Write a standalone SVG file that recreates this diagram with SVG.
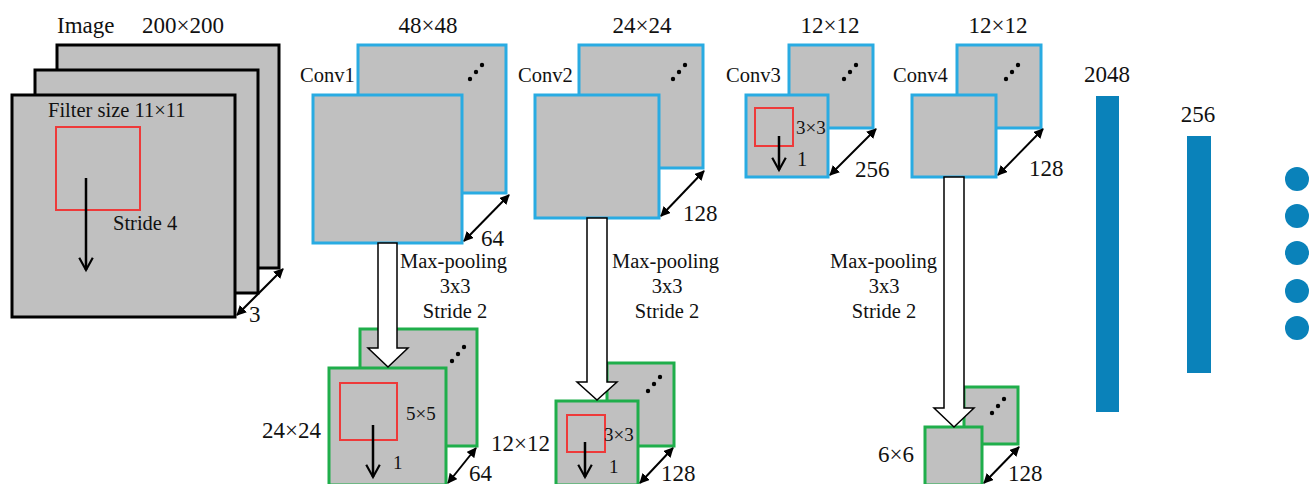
<svg xmlns="http://www.w3.org/2000/svg" width="1314" height="484" viewBox="0 0 1314 484">
<defs>
<style>
text{font-family:'Liberation Serif','DejaVu Serif',serif;fill:#111}
.t24{font-size:23px}
.t21{font-size:20.5px}
.t18{font-size:19px}
.img{fill:#c0c0c0;stroke:#000;stroke-width:3}
.conv{fill:#c0c0c0;stroke:#29abe2;stroke-width:3}
.pool{fill:#c0c0c0;stroke:#1fae4b;stroke-width:3}
.filt{fill:none;stroke:#ee3a3a;stroke-width:2}
.dn{stroke:#000;stroke-width:2.5;fill:none;marker-end:url(#open)}
.dim{stroke:#000;stroke-width:2;fill:none;marker-start:url(#fill);marker-end:url(#fill)}
.big{fill:#fff;stroke:#000;stroke-width:1.5}
.bar{fill:#0a82ba}
</style>
<marker id="open" viewBox="0 0 12 12" refX="10" refY="6" markerWidth="6.5" markerHeight="6.5" orient="auto" markerUnits="strokeWidth">
<path d="M1,1 L10,6 L1,11" fill="none" stroke="#000" stroke-width="1.6"/>
</marker>
<marker id="fill" viewBox="0 0 10 10" refX="9" refY="5" markerWidth="5" markerHeight="5" orient="auto-start-reverse" markerUnits="strokeWidth">
<path d="M0,0 L10,5 L0,10 Z" fill="#000"/>
</marker>
<g id="dots3">
<circle cx="0" cy="0" r="2.2" fill="#000"/>
<circle cx="6" cy="-7" r="2.2" fill="#000"/>
<circle cx="12" cy="-14" r="2.2" fill="#000"/>
</g>
</defs>

<g font-family="Liberation Serif, DejaVu Serif, serif">
<g id="image">
<rect class="img" x="57" y="45" width="222" height="223"/>
<rect class="img" x="35" y="70" width="223" height="223"/>
<rect class="img" x="12" y="95" width="223" height="222"/>
<text class="t24" x="57" y="33">Image</text>
<text class="t24" x="142" y="33">200×200</text>
<text class="t21" x="48" y="117">Filter size 11×11</text>
<rect class="filt" x="56" y="127" width="84" height="83"/>
<text class="t21" x="113" y="230">Stride 4</text>
<text class="t24" x="249" y="322">3</text>
</g>

<g id="conv1">
<rect class="conv" x="358" y="45" width="148" height="148"/>
<rect class="conv" x="313" y="95" width="149" height="148"/>
<use href="#dots3" x="470" y="79"/>
<text class="t24" x="428" y="33" text-anchor="middle">48×48</text>
<text class="t21" x="300" y="82">Conv1</text>
<text class="t24" x="481" y="246">64</text>
</g>

<g id="conv2">
<rect class="conv" x="579" y="45" width="124" height="123"/>
<rect class="conv" x="535" y="95" width="124" height="123"/>
<use href="#dots3" x="673" y="79"/>
<text class="t24" x="642" y="33" text-anchor="middle">24×24</text>
<text class="t21" x="518" y="82">Conv2</text>
<text class="t24" x="683" y="221">128</text>
</g>

<g id="conv3">
<rect class="conv" x="789" y="45" width="84" height="83"/>
<rect class="conv" x="746" y="95" width="82" height="82"/>
<use href="#dots3" x="844" y="79"/>
<rect class="filt" x="755" y="108" width="38" height="38"/>
<text class="t24" x="830" y="33" text-anchor="middle">12×12</text>
<text class="t21" x="726" y="82">Conv3</text>
<text class="t18" x="796" y="134">3×3</text>
<text class="t21" x="797" y="166">1</text>
<text class="t24" x="855" y="177">256</text>
</g>

<g id="conv4">
<rect class="conv" x="957" y="45" width="84" height="83"/>
<rect class="conv" x="912" y="95" width="84" height="82"/>
<use href="#dots3" x="1006" y="79"/>
<text class="t24" x="998" y="33" text-anchor="middle">12×12</text>
<text class="t21" x="893" y="82">Conv4</text>
<text class="t24" x="1029" y="176">128</text>
</g>

<g id="pool1">
<rect class="pool" x="360" y="329" width="117" height="117"/>
<rect class="pool" x="329" y="368" width="117" height="117"/>
<use href="#dots3" x="452" y="361"/>
<rect class="filt" x="340" y="383" width="57" height="57"/>
<text class="t18" x="406" y="420">5×5</text>
<text class="t24" x="262" y="438">24×24</text>
<text class="t18" x="393" y="469">1</text>
<text class="t24" x="469" y="481">64</text>
</g>

<g id="pool2">
<rect class="pool" x="607" y="363" width="67" height="83"/>
<rect class="pool" x="556" y="401" width="82" height="84"/>
<use href="#dots3" x="648" y="391"/>
<rect class="filt" x="567" y="415" width="38" height="37"/>
<text class="t18" x="604" y="441">3×3</text>
<text class="t24" x="491" y="451">12×12</text>
<text class="t18" x="609" y="473">1</text>
<text class="t24" x="661" y="481">128</text>
</g>

<g id="pool4">
<rect class="pool" x="964" y="387" width="54" height="57"/>
<rect class="pool" x="925" y="427" width="57" height="58"/>
<use href="#dots3" x="992" y="413"/>
<text class="t24" x="878" y="462">6×6</text>
<text class="t24" x="1008" y="481">128</text>
</g>

<g id="pool-labels">
<text class="t21" x="400" y="268">Max-pooling</text>
<text class="t21" x="455" y="293" text-anchor="middle">3x3</text>
<text class="t21" x="455" y="318" text-anchor="middle">Stride 2</text>
<text class="t21" x="612" y="268">Max-pooling</text>
<text class="t21" x="667" y="293" text-anchor="middle">3x3</text>
<text class="t21" x="667" y="318" text-anchor="middle">Stride 2</text>
<text class="t21" x="830" y="268">Max-pooling</text>
<text class="t21" x="884" y="293" text-anchor="middle">3x3</text>
<text class="t21" x="884" y="318" text-anchor="middle">Stride 2</text>
</g>

<g id="fc1">
<rect class="bar" x="1096" y="96" width="23" height="316"/>
<text class="t24" x="1107" y="82" text-anchor="middle">2048</text>
</g>
<g id="fc2">
<rect class="bar" x="1187" y="136" width="24" height="237"/>
<text class="t24" x="1198" y="122" text-anchor="middle">256</text>
</g>
<g id="output">
<circle class="bar" cx="1297" cy="179" r="12"/>
<circle class="bar" cx="1297" cy="216" r="12"/>
<circle class="bar" cx="1297" cy="253" r="12"/>
<circle class="bar" cx="1297" cy="291" r="12"/>
<circle class="bar" cx="1297" cy="328" r="12"/>
</g>
</g>

<g id="connectors">
<line class="dn" x1="86" y1="178" x2="86" y2="270"/>
<line class="dim" x1="237" y1="315" x2="283" y2="269"/>
<line class="dim" x1="464" y1="241" x2="509" y2="195"/>
<line class="dim" x1="661" y1="216" x2="704" y2="171"/>
<line class="dn" x1="779" y1="136" x2="779" y2="170"/>
<line class="dim" x1="830" y1="175" x2="876" y2="129"/>
<line class="dim" x1="998" y1="175" x2="1043" y2="129"/>
<line class="dn" x1="373" y1="425" x2="373" y2="477"/>
<line class="dim" x1="448" y1="483" x2="476" y2="448"/>
<line class="dn" x1="585" y1="442" x2="585" y2="477"/>
<line class="dim" x1="640" y1="483" x2="673" y2="448"/>
<line class="dim" x1="984" y1="483" x2="1019" y2="447"/>
<path class="big" d="M378,243 L378,348 L368,348 L388,367 L408,348 L397,348 L397,243 Z"/>
<path class="big" d="M587,218 L587,382 L577,382 L597,400 L617,382 L607,382 L607,218 Z"/>
<path class="big" d="M944,177 L944,408 L934,408 L954,427 L974,408 L964,408 L964,177 Z"/>
</g>
</svg>
